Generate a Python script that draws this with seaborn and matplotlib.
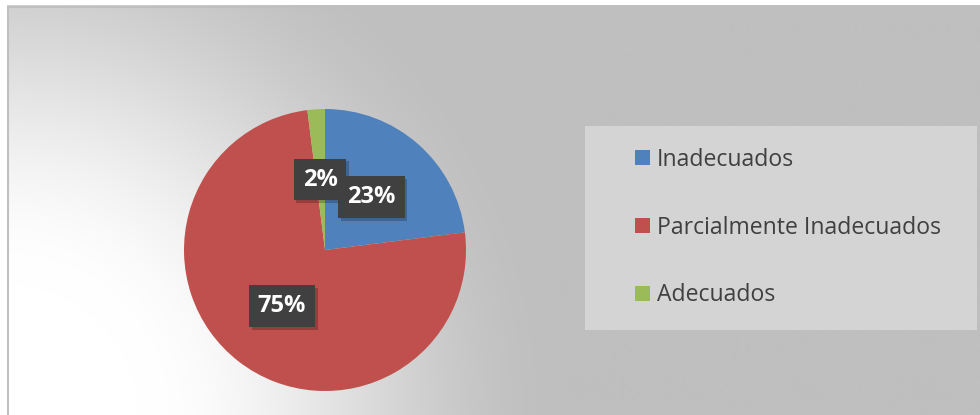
import numpy as np
import matplotlib
matplotlib.use("Agg")
import matplotlib.pyplot as plt
import seaborn as sns
from matplotlib import patheffects as pe
from matplotlib.patches import Rectangle, Patch

categories = ["Inadecuados", "Parcialmente Inadecuados", "Adecuados"]
values = [23, 75, 2]
pct_labels = ["23%", "75%", "2%"]
colors = ["#4F81BD", "#C0504D", "#9BBB59"]

sns.set_theme(style="white")
plt.rcParams['font.family'] = ['Open Sans', 'DejaVu Sans']

W, H = 980, 415
fig = plt.figure(figsize=(9.8, 4.15), dpi=100)

# background gradient (chart area)
bg = fig.add_axes([0, 0, 1, 1])
bg.set_axis_off()
yy, xx = np.mgrid[0:H, 0:W]
d = np.hypot(xx - 7, yy - 415)
t = np.clip((d - 130) / 430, 0, 1)
s = 3 * t ** 2 - 2 * t ** 3
g = 1 - (1 - 191 / 255) * s
img = np.dstack([g, g, g])
img[:6, :] = 1
img[:, :7] = 1
bg.imshow(img, extent=[0, W, H, 0], aspect='auto', interpolation='bilinear')
bg.set_xlim(0, W)
bg.set_ylim(H, 0)
bg.plot([8, 8, W], [H, 7, 7], color='#BFBFBF', lw=1.5, solid_joinstyle='miter')
bg.add_patch(Rectangle((585, 126), 392, 204, facecolor='#D4D4D4', edgecolor='none'))

# pie
ax = fig.add_axes([(325 - 141) / W, (H - 391) / H, 282 / W, 282 / H])
ax.pie(values, colors=colors, startangle=90, counterclock=False, radius=1,
       wedgeprops=dict(linewidth=0))
ax.set_xlim(-1, 1)
ax.set_ylim(-1, 1)
ax.set_axis_off()

label_pos = {"23%": (0.33, 0.376), "75%": (-0.305, -0.397), "2%": (-0.035, 0.50)}
label_z = {"23%": 12, "75%": 11, "2%": 10}
for lab in pct_labels:
    x, y = label_pos[lab]
    tx = ax.text(x, y, lab, ha='center', va='center', fontsize=17, fontweight='bold',
                 family=['Open Sans', 'DejaVu Sans'],
                 color='white', zorder=label_z[lab],
                 bbox=dict(boxstyle='square,pad=0.38', facecolor='#404040', edgecolor='none'))
    tx.get_bbox_patch().set_path_effects([
        pe.SimplePatchShadow(offset=(2, -2), shadow_rgbFace='black', alpha=0.22),
        pe.Normal()])

handles = [Patch(facecolor=c, edgecolor='none') for c in colors]
fig.legend(handles, categories, loc='center left', bbox_to_anchor=(635 / W, 1 - 227.5 / H),
           frameon=False, fontsize=16.6, handlelength=0.65, handleheight=0.65,
           handletextpad=0.3, labelspacing=1.9, borderpad=0, borderaxespad=0,
           labelcolor='#404040')

fig.savefig("out.png", dpi=100)
